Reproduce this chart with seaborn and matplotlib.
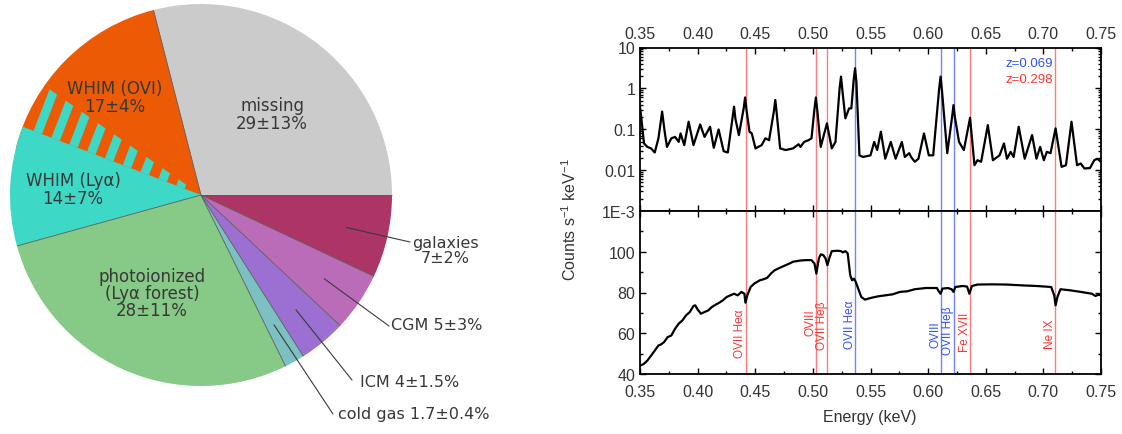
import numpy as np
import matplotlib
matplotlib.use("Agg")
import matplotlib.pyplot as plt
import matplotlib.transforms as mtransforms
from matplotlib.patches import Wedge, Polygon
from matplotlib.ticker import (MultipleLocator, LogLocator, NullFormatter, FixedLocator,
                               FixedFormatter, FormatStrFormatter)
import seaborn as sns

sns.set_theme(style="ticks")
plt.rcParams["font.family"] = ["Liberation Sans", "DejaVu Sans"]
plt.rcParams["mathtext.default"] = "regular"

# ---------------- baryon budget (pie) ----------------
components = ["missing", "WHIM (OVI)", "WHIM (Lyα)", "photoionized",
              "cold gas", "ICM", "CGM", "galaxies"]
fractions = [29, 17, 14, 28, 1.7, 4, 5, 7]
errors = ["13", "4", "7", "11", "0.4", "1.5", "3", "2"]
slice_colors = ["#cbcbcb", "#ec5b04", "#3dd8c6", "#87c986",
                "#7cc0c2", "#9b70d2", "#bb6cb9", "#ac3565"]

# ---------------- X-ray spectrum ----------------
energy_top = [0.3500, 0.3515, 0.3535, 0.3564, 0.3596, 0.3628, 0.3660, 0.3692, 0.3714, 0.3734,
              0.3772, 0.3804, 0.3836, 0.3852, 0.3884, 0.3922, 0.3964, 0.4022, 0.4060, 0.4108,
              0.4140, 0.4182, 0.4226, 0.4262, 0.4304, 0.4316, 0.4328, 0.4358, 0.4400, 0.4412,
              0.4424, 0.4450, 0.4470, 0.4502, 0.4556, 0.4588, 0.4620, 0.4662, 0.4674, 0.4686,
              0.4716, 0.4764, 0.4828, 0.4876, 0.4892, 0.4924, 0.4962, 0.4988, 0.5014, 0.5026,
              0.5038, 0.5068, 0.5122, 0.5164, 0.5196, 0.5232, 0.5244, 0.5256, 0.5282, 0.5314,
              0.5334, 0.5354, 0.5366, 0.5378, 0.5404, 0.5436, 0.5500, 0.5532, 0.5558, 0.5590,
              0.5628, 0.5676, 0.5718, 0.5772, 0.5798, 0.5836, 0.5852, 0.5884, 0.5916, 0.5964,
              0.6006, 0.6044, 0.6096, 0.6108, 0.6120, 0.6166, 0.6208, 0.6220, 0.6232, 0.6268,
              0.6310, 0.6364, 0.6402, 0.6428, 0.6460, 0.6518, 0.6562, 0.6620, 0.6658, 0.6684,
              0.6716, 0.6742, 0.6786, 0.6838, 0.6902, 0.6940, 0.6972, 0.7004, 0.7030, 0.7062,
              0.7106, 0.7158, 0.7196, 0.7244, 0.7292, 0.7324, 0.7356, 0.7404, 0.7442, 0.7468,
              0.7500]
flux_top = [0.35, 0.15, 0.045, 0.037, 0.034, 0.027, 0.060, 0.27, 0.087, 0.037,
            0.060, 0.065, 0.049, 0.079, 0.041, 0.153, 0.041, 0.131, 0.065, 0.115,
            0.035, 0.099, 0.029, 0.027, 0.20, 0.356, 0.18, 0.072, 0.33, 0.60,
            0.30, 0.087, 0.079, 0.034, 0.041, 0.060, 0.054, 0.28, 0.52, 0.25,
            0.034, 0.031, 0.034, 0.043, 0.037, 0.049, 0.054, 0.060, 0.32, 0.60,
            0.30, 0.037, 0.139, 0.034, 0.049, 1.0, 1.94, 0.9, 0.185, 0.324,
            0.324, 1.6, 3.11, 1.4, 0.023, 0.021, 0.023, 0.049, 0.031, 0.087,
            0.019, 0.049, 0.019, 0.049, 0.021, 0.026, 0.021, 0.016, 0.019, 0.079,
            0.023, 0.023, 1.0, 1.94, 0.9, 0.026, 0.20, 0.39, 0.20, 0.049,
            0.031, 0.19, 0.0132, 0.0175, 0.016, 0.126, 0.0175, 0.023, 0.045, 0.019,
            0.028, 0.021, 0.115, 0.019, 0.072, 0.019, 0.037, 0.0175, 0.028, 0.026,
            0.105, 0.012, 0.0132, 0.153, 0.0132, 0.0145, 0.011, 0.0112, 0.0175, 0.019,
            0.016]

energy_bot = [0.3500, 0.3532, 0.3564, 0.3596, 0.3628, 0.3660, 0.3682, 0.3708, 0.3740, 0.3772,
              0.3804, 0.3836, 0.3868, 0.3900, 0.3932, 0.3964, 0.3980, 0.3996, 0.4028, 0.4060,
              0.4092, 0.4124, 0.4156, 0.4188, 0.4220, 0.4252, 0.4284, 0.4316, 0.4348, 0.4380,
              0.4406, 0.4415, 0.4431, 0.4460, 0.4492, 0.4540, 0.4572, 0.4604, 0.4636, 0.4668,
              0.4700, 0.4732, 0.4764, 0.4796, 0.4828, 0.4860, 0.4892, 0.4940, 0.4988, 0.5014,
              0.5030, 0.5052, 0.5068, 0.5090, 0.5110, 0.5126, 0.5142, 0.5164, 0.5212, 0.5244,
              0.5260, 0.5282, 0.5302, 0.5324, 0.5340, 0.5356, 0.5372, 0.5388, 0.5420, 0.5452,
              0.5500, 0.5564, 0.5628, 0.5692, 0.5756, 0.5820, 0.5884, 0.5980, 0.6076, 0.6092,
              0.6108, 0.6124, 0.6172, 0.6204, 0.6220, 0.6236, 0.6300, 0.6338, 0.6358, 0.6380,
              0.6428, 0.6556, 0.6684, 0.6812, 0.6940, 0.7068, 0.7094, 0.7106, 0.7122, 0.7148,
              0.7228, 0.7324, 0.7420, 0.7452, 0.7478, 0.7500]
rate_bot = [44.1, 44.9, 46.6, 49.0, 51.5, 54.0, 54.5, 55.6, 58.1, 58.9,
            62.2, 64.7, 66.3, 68.8, 70.4, 73.4, 73.7, 72.0, 69.6, 70.4,
            71.2, 72.9, 74.0, 75.0, 76.2, 77.8, 78.6, 79.4, 78.6, 80.3,
            79.4, 75.0, 78.6, 82.7, 84.4, 86.0, 86.5, 87.2, 89.3, 90.9,
            91.8, 92.6, 93.4, 94.2, 95.1, 95.4, 95.7, 95.9, 95.9, 94.2,
            89.3, 96.7, 98.7, 98.4, 96.7, 93.4, 96.7, 100.3, 100.5, 100.3,
            99.7, 100.3, 99.2, 88.5, 86.0, 86.8, 85.2, 82.7, 77.8, 76.5,
            77.3, 78.1, 78.6, 79.1, 80.3, 80.6, 81.6, 82.2, 82.2, 80.6,
            79.4, 81.9, 82.2, 81.6, 80.3, 82.7, 83.2, 82.9, 79.4, 83.2,
            83.9, 84.0, 83.9, 83.5, 83.2, 82.7, 78.6, 73.7, 77.8, 81.6,
            81.1, 80.3, 79.4, 78.3, 78.9, 78.6]

line_names = ["OVII Heα", "OVIII", "OVII Heβ", "OVII Heα", "OVIII", "OVII Heβ", "Fe XVII", "Ne IX"]
line_energy = [0.4420, 0.5030, 0.5126, 0.5367, 0.6112, 0.6223, 0.6367, 0.7103]
line_system = ["z=0.298", "z=0.298", "z=0.298", "z=0.069", "z=0.069", "z=0.069", "z=0.298", "z=0.298"]
label_top_y = [72.0, 72.0, 76.0, 76.5, 66.1, 73.5, 70.6, 67.1]

system_line_color = {"z=0.069": "#7383ff", "z=0.298": "#ff7a7a"}
system_text_color = {"z=0.069": "#2f52ff", "z=0.298": "#ff3535"}

W, H = 1122, 435
fig = plt.figure(figsize=(W / 100, H / 100), dpi=100)

# ================= pie panel =================
R_PX, CX, CY = 191.0, 201.0, 196.0
ax_pie = fig.add_axes([0, 0, 540 / W, 1])
ax_pie.set_xlim((0 - CX) / R_PX, (540 - CX) / R_PX)
ax_pie.set_ylim((CY - H) / R_PX, CY / R_PX)
ax_pie.axis("off")


def pie_xy(px, py):
    return (px - CX) / R_PX, (CY - py) / R_PX


frac = dict(zip(components, fractions))
col = dict(zip(components, slice_colors))
theta = {}
start = 0.0
for name in ["missing", "WHIM (OVI)"]:
    theta[name] = (start, start + 3.6 * frac[name])
    start += 3.6 * frac[name]
end = 360.0
for name in ["galaxies", "CGM", "ICM", "cold gas", "photoionized", "WHIM (Lyα)"]:
    theta[name] = (end - 3.6 * frac[name], end)
    end -= 3.6 * frac[name]

lya0, lya1 = theta["WHIM (Lyα)"]
ovi0, ovi1 = theta["WHIM (OVI)"]
comb_base = lya0 + 0.68 * (ovi1 - lya0)

for name in components:
    t0, t1 = theta[name]
    if name == "WHIM (Lyα)":
        t0 = comb_base
    ax_pie.add_patch(Wedge((0, 0), 1.0, t0, t1, facecolor=col[name], edgecolor="none", lw=0))

# overlap of the two WHIM estimates: comb of Lyα teeth over the OVI wedge
clip = Wedge((0, 0), 1.0, lya0, comb_base, facecolor="none", edgecolor="none", lw=0)
ax_pie.add_patch(clip)
d = np.array([np.cos(np.radians(comb_base)), np.sin(np.radians(comb_base))])
nrm = np.array([np.cos(np.radians(comb_base - 90)), np.sin(np.radians(comb_base - 90))])
tooth_w = 0.047
for k in range(10):
    u = 0.915 - 0.10 * k
    if u <= 0.03:
        break
    pts = [(u - tooth_w / 2) * d - 0.02 * nrm, (u + tooth_w / 2) * d - 0.02 * nrm,
           (u + tooth_w / 2) * d + 0.6 * nrm, (u - tooth_w / 2) * d + 0.6 * nrm]
    tooth = Polygon(pts, closed=True, facecolor=col["WHIM (Lyα)"], edgecolor="none", lw=0)
    ax_pie.add_patch(tooth)
    tooth.set_clip_path(clip)

# slice borders
for ang in [0.0, theta["missing"][1], lya1, theta["photoionized"][1], theta["cold gas"][1],
            theta["ICM"][1], theta["CGM"][1]]:
    a = np.radians(ang)
    ax_pie.plot([0, np.cos(a)], [0, np.sin(a)], color="#5a5a5a", lw=0.6, solid_capstyle="butt")

inner_font = dict(family="DejaVu Sans", fontsize=12, color="#383838")
outer_font = dict(family="DejaVu Sans", fontsize=11.5, color="#383838")


def pct(name):
    i = components.index(name)
    return f"{fractions[i]:g}±{errors[i]}%"


inner = {
    "WHIM (OVI)": ("WHIM (OVI)\n" + pct("WHIM (OVI)"), (115, 98)),
    "missing": ("missing\n" + pct("missing"), (272, 115)),
    "WHIM (Lyα)": ("WHIM (Lyα)\n" + pct("WHIM (Lyα)"), (73, 190)),
    "photoionized": ("photoionized\n(Lyα forest)\n" + pct("photoionized"), (152, 294)),
}
for name, (txt, (px, py)) in inner.items():
    x, y = pie_xy(px, py)
    ax_pie.text(x, y, txt, ha="center", va="center", linespacing=0.95, **inner_font)

outer = {
    "galaxies": ("galaxies\n" + pct("galaxies"), (445, 251), "center", (410, 243)),
    "CGM": ("CGM " + pct("CGM"), (391, 325), "left", (389, 327)),
    "ICM": ("ICM " + pct("ICM"), (360, 383), "left", (352, 381)),
    "cold gas": ("cold gas " + pct("cold gas"), (338, 415), "left", (333, 415)),
}
for name, (txt, (px, py), ha, (ex, ey)) in outer.items():
    t0, t1 = theta[name]
    mid = np.radians(0.5 * (t0 + t1))
    x1, y1 = pie_xy(ex, ey)
    ax_pie.plot([0.78 * np.cos(mid), x1], [0.78 * np.sin(mid), y1], color="#3a3a3a", lw=0.8)
    x, y = pie_xy(px, py)
    ax_pie.text(x, y, txt, ha=ha, va="center", linespacing=0.95, **outer_font)

# ================= spectrum panels =================
left, right = 640 / W, 1101 / W
ax_top = fig.add_axes([left, 1 - 212 / H, right - left, (212 - 48.5) / H])
ax_bot = fig.add_axes([left, 1 - 375 / H, right - left, (375 - 212) / H])

sns.lineplot(x=energy_top, y=flux_top, ax=ax_top, color="black", lw=1.6, sort=False)
sns.lineplot(x=energy_bot, y=rate_bot, ax=ax_bot, color="black", lw=1.6, sort=False)

for ax in (ax_top, ax_bot):
    for e, s in zip(line_energy, line_system):
        ax.axvline(e, color=system_line_color[s], lw=1.0, zorder=1)
    ax.set_xlim(0.35, 0.75)
    ax.xaxis.set_major_locator(MultipleLocator(0.05))
    ax.xaxis.set_minor_locator(MultipleLocator(0.025))
    ax.xaxis.set_major_formatter(FormatStrFormatter("%.2f"))
    ax.tick_params(which="both", direction="in", top=True, right=True,
                   width=1.0, colors="black", labelcolor="#333333", labelsize=11.5)
    ax.tick_params(which="major", length=4.5)
    ax.tick_params(which="minor", length=2.5)
    for sp in ax.spines.values():
        sp.set_linewidth(1.3)
        sp.set_color("black")
    ax.set_xlabel("")
    ax.set_ylabel("")
    ax.set_facecolor("white")

ax_top.set_yscale("log")
ax_top.set_ylim(1e-3, 10)
ax_top.yaxis.set_major_locator(FixedLocator([1e-3, 1e-2, 1e-1, 1, 10]))
ax_top.yaxis.set_major_formatter(FixedFormatter(["1E-3", "0.01", "0.1", "1", "10"]))
ax_top.yaxis.set_minor_locator(LogLocator(base=10, subs=np.arange(2, 10)))
ax_top.yaxis.set_minor_formatter(NullFormatter())
ax_top.tick_params(axis="x", labeltop=True, labelbottom=False, pad=5)

ax_bot.set_ylim(40, 120)
ax_bot.yaxis.set_major_locator(FixedLocator([40, 60, 80, 100]))
ax_bot.yaxis.set_minor_locator(FixedLocator([50, 70, 90, 110]))
ax_bot.tick_params(axis="x", pad=7)

# line identifications
shift = mtransforms.offset_copy(ax_bot.transData, fig=fig, x=-4.0, y=0, units="points")
for name, e, s, yt in zip(line_names, line_energy, line_system, label_top_y):
    ax_bot.text(e, yt, name, rotation=90, ha="center", va="top", fontsize=8.5,
                color=system_text_color[s], transform=shift)

ax_top.text(0.896, 0.905, "z=0.069", transform=ax_top.transAxes, ha="right", va="center",
            fontsize=9.5, color=system_text_color["z=0.069"])
ax_top.text(0.896, 0.805, "z=0.298", transform=ax_top.transAxes, ha="right", va="center",
            fontsize=9.5, color=system_text_color["z=0.298"])

fig.text(870 / W, 1 - 418 / H, "Energy (keV)", ha="center", va="center", fontsize=11.5, color="#333333")
fig.text(570 / W, 1 - 220 / H, "Counts s$^{-1}$ keV$^{-1}$", rotation=90, ha="center", va="center",
         fontsize=11.5, color="#333333")

fig.savefig("out.png", dpi=100, facecolor="white")
